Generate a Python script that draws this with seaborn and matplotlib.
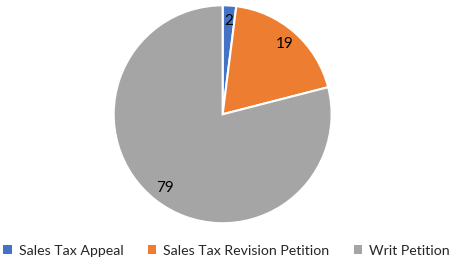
import matplotlib
matplotlib.use("Agg")
import matplotlib.pyplot as plt
import seaborn as sns
from matplotlib.patches import Patch

categories = ["Sales Tax Appeal", "Sales Tax Revision Petition", "Writ Petition"]
values = [2, 19, 79]
colors = ["#4472C4", "#ED7D31", "#A5A5A5"]

sns.set_style("white")
plt.rcParams["font.family"] = ["Lato", "DejaVu Sans"]

fig = plt.figure(figsize=(4.53, 2.63), dpi=100)
ax = fig.add_axes([0.251, 0.151, 0.481, 0.829])
total = sum(values)
wedges, texts, autotexts = ax.pie(
    values, colors=sns.color_palette(colors), startangle=90, counterclock=False,
    autopct=lambda p: f"{round(p * total / 100):.0f}", pctdistance=0.86,
    wedgeprops=dict(edgecolor="white", linewidth=1.5),
    textprops=dict(fontsize=11, color="#000000"))
ax.set_xlim(-1, 1)
ax.set_ylim(-1, 1)
ax.set_aspect("equal")

handles = [Patch(facecolor=c, edgecolor="none", label=l) for c, l in zip(colors, categories)]
fig.legend(handles=handles, loc="lower center", bbox_to_anchor=(0.5, -0.025), ncol=3,
           frameon=False, fontsize=10.2, handlelength=0.6, handleheight=0.6,
           handletextpad=0.5, columnspacing=1.7)
fig.savefig("out.png", dpi=100)
